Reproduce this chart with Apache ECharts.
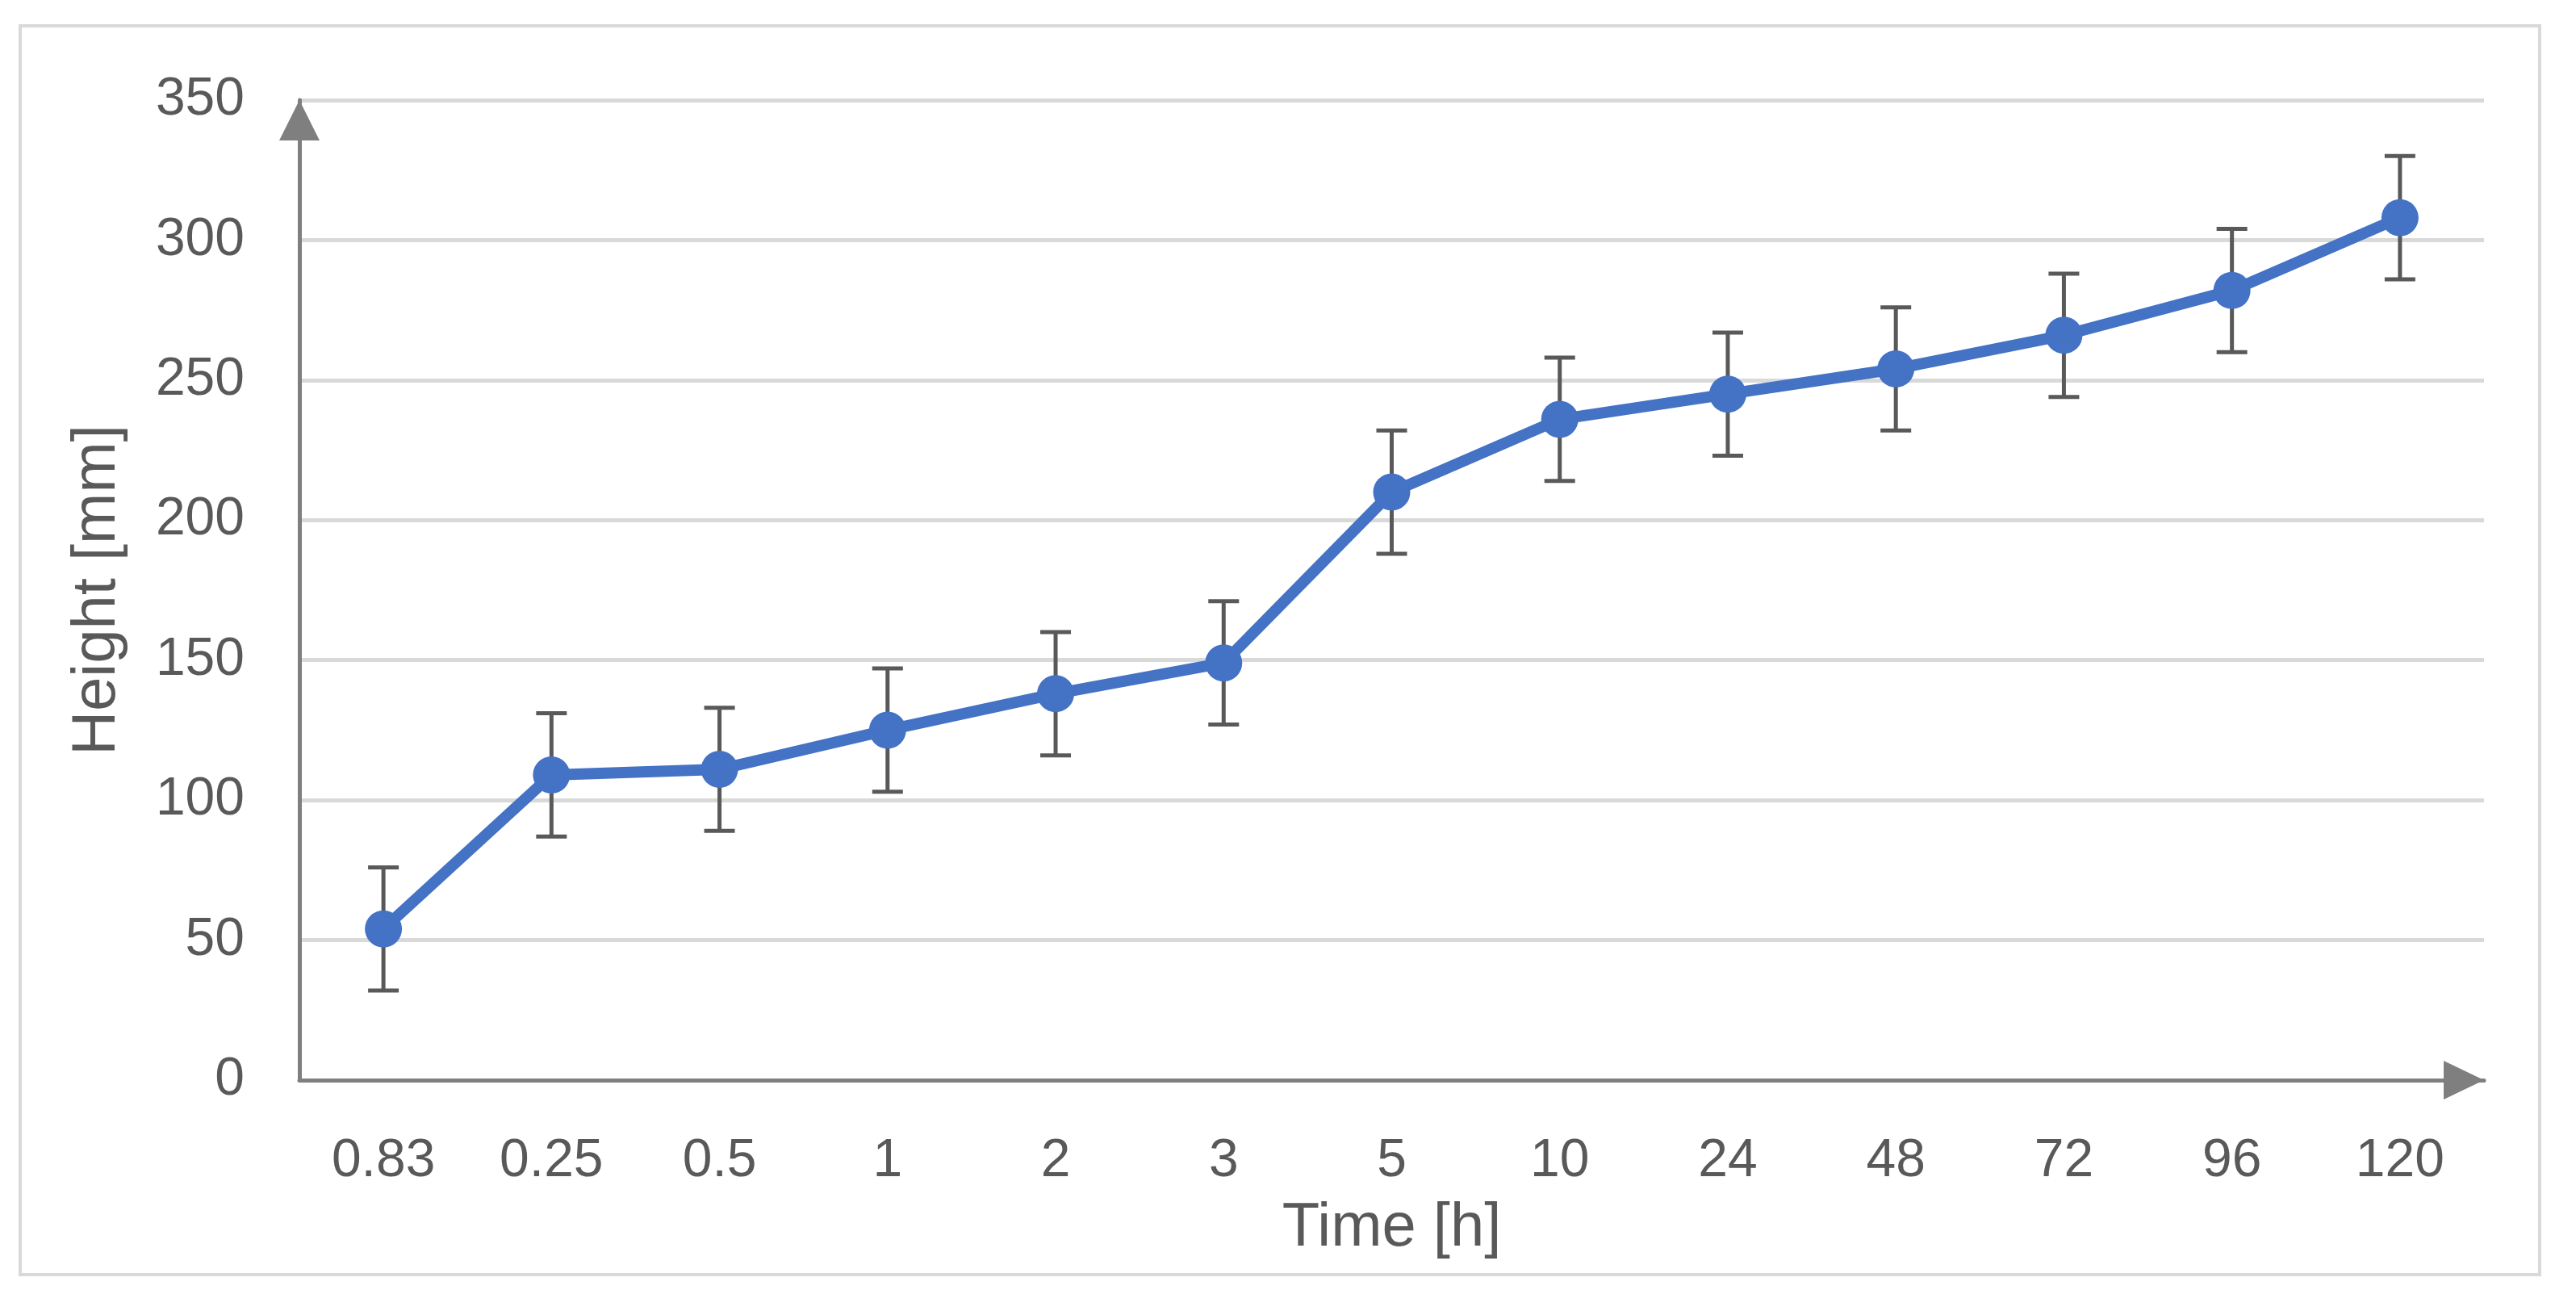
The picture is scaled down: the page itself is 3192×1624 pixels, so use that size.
<!DOCTYPE html>
<html>
<head>
<meta charset="utf-8">
<script src="https://cdn.jsdelivr.net/npm/echarts@6/dist/echarts.min.js"></script>
<style>
  html, body { margin: 0; padding: 0; background: #ffffff; }
  #chart { width: 3192px; height: 1624px; }
</style>
</head>
<body>
<div id="chart"></div>
<script>
const categories = ['0.83', '0.25', '0.5', '1', '2', '3', '5', '10', '24', '48', '72', '96', '120'];
const heights = [54, 109, 111, 125, 138, 149, 210, 236, 245, 254, 266, 282, 308];
const errors = [22, 22, 22, 22, 22, 22, 22, 22, 22, 22, 22, 22, 22];
const yTicks = { min: 0, max: 350, interval: 50 };

const FONT = 'Liberation Sans';
const chart = echarts.init(document.getElementById('chart'), null, { renderer: 'canvas' });

const errorData = categories.map((c, i) => [i, heights[i] - errors[i], heights[i] + errors[i]]);

const option = {
  backgroundColor: '#ffffff',
  animation: false,
  graphic: [{
    type: 'rect',
    shape: { x: 25, y: 32, width: 3122, height: 1547 },
    style: { fill: 'none', stroke: '#d9d9d9', lineWidth: 4 },
    silent: true,
    z: -1
  }],
  grid: { left: 371, right: 114, top: 124, bottom: 286, containLabel: false },
  xAxis: {
    type: 'category',
    data: categories,
    boundaryGap: true,
    name: 'Time [h]',
    nameLocation: 'middle',
    nameGap: 146,
    nameTextStyle: { fontFamily: FONT, fontSize: 76, color: '#595959' },
    axisLine: {
      show: true,
      lineStyle: { color: '#7f7f7f', width: 5 },
      symbol: ['none', 'triangle'],
      symbolSize: [48, 50],
      symbolOffset: [0, -25]
    },
    axisTick: { show: false },
    axisLabel: { interval: 0, fontFamily: FONT, fontSize: 66, color: '#595959', margin: 68 },
    splitLine: { show: false }
  },
  yAxis: {
    type: 'value',
    min: yTicks.min,
    max: yTicks.max,
    interval: yTicks.interval,
    name: 'Height [mm]',
    nameLocation: 'middle',
    nameGap: 212,
    nameRotate: 90,
    nameTextStyle: { fontFamily: FONT, fontSize: 76, color: '#595959' },
    axisLine: {
      show: true,
      lineStyle: { color: '#7f7f7f', width: 5 },
      symbol: ['none', 'triangle'],
      symbolSize: [50, 50],
      symbolOffset: [0, -25]
    },
    axisTick: { show: false },
    axisLabel: { fontFamily: FONT, fontSize: 66, color: '#595959', margin: 68 },
    splitLine: { show: true, lineStyle: { color: '#d9d9d9', width: 5 } }
  },
  series: [
    {
      type: 'custom',
      name: 'error',
      data: errorData,
      z: 3,
      renderItem: function (params, api) {
        const x = api.value(0);
        const lo = api.coord([x, api.value(1)]);
        const hi = api.coord([x, api.value(2)]);
        const half = 19;
        const style = { stroke: '#595959', lineWidth: 5, fill: 'none' };
        return {
          type: 'group',
          children: [
            { type: 'line', shape: { x1: lo[0], y1: lo[1], x2: hi[0], y2: hi[1] }, style: style },
            { type: 'line', shape: { x1: hi[0] - half, y1: hi[1], x2: hi[0] + half, y2: hi[1] }, style: style },
            { type: 'line', shape: { x1: lo[0] - half, y1: lo[1], x2: lo[0] + half, y2: lo[1] }, style: style }
          ]
        };
      }
    },
    {
      type: 'line',
      name: 'Height',
      data: heights,
      z: 4,
      symbol: 'circle',
      symbolSize: 46,
      lineStyle: { color: '#4472c4', width: 14 },
      itemStyle: { color: '#4472c4', borderWidth: 0 }
    }
  ]
};
chart.setOption(option);
</script>
</body>
</html>
